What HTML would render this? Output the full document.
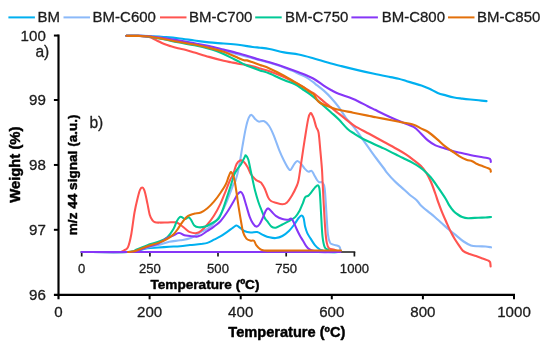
<!DOCTYPE html>
<html lang="en"><head><meta charset="utf-8"><title>TGA chart</title>
<style>html,body{margin:0;padding:0;background:#fff;}body{width:550px;height:346px;overflow:hidden;position:relative;font-family:"Liberation Sans",sans-serif;}</style>
</head><body>
<svg width="550" height="346" viewBox="0 0 550 346" style="position:absolute;left:0;top:0;display:block;filter:blur(0.35px)">
<rect width="550" height="346" fill="#fff"/>
<g stroke="#1a1a1a" stroke-width="1.7" fill="none">
<path d="M80.85 252.0 H355.25"/>
<path d="M81.7 252.0 V256.5"/>
<path d="M149.9 252.0 V256.5"/>
<path d="M218.0 252.0 V256.5"/>
<path d="M286.2 252.0 V256.5"/>
<path d="M354.4 252.0 V256.5"/>
</g>
<g fill="none" stroke-width="2.15" stroke-linecap="round" stroke-linejoin="round">
<path stroke="#00B0F0" d="M126.40 35.80 C128.33 35.82 134.23 35.85 138.00 35.90 C141.77 35.95 144.73 35.92 149.00 36.10 C153.27 36.28 158.77 36.65 163.60 37.00 C168.43 37.35 172.85 37.62 178.00 38.20 C183.15 38.78 189.33 39.80 194.50 40.50 C199.67 41.20 204.15 41.90 209.00 42.40 C213.85 42.90 218.73 43.10 223.60 43.50 C228.47 43.90 233.35 44.22 238.20 44.80 C243.05 45.38 249.07 46.52 252.70 47.00 C256.33 47.48 257.20 47.37 260.00 47.70 C262.80 48.03 265.50 48.22 269.50 49.00 C273.50 49.78 279.15 51.48 284.00 52.40 C288.85 53.32 293.73 53.53 298.60 54.50 C303.47 55.47 308.35 56.87 313.20 58.20 C318.05 59.53 323.00 61.18 327.70 62.50 C332.40 63.82 336.40 64.83 341.40 66.10 C346.40 67.37 352.25 68.82 357.70 70.10 C363.15 71.38 368.63 72.63 374.10 73.80 C379.57 74.97 386.42 76.28 390.50 77.10 C394.58 77.92 395.88 78.02 398.60 78.70 C401.32 79.38 404.37 80.47 406.80 81.20 C409.23 81.93 410.77 82.38 413.20 83.10 C415.63 83.82 418.68 84.55 421.40 85.50 C424.12 86.45 426.78 87.57 429.50 88.80 C432.22 90.03 434.97 91.80 437.70 92.90 C440.43 94.00 443.17 94.63 445.90 95.40 C448.63 96.17 451.37 96.97 454.10 97.50 C456.83 98.03 459.57 98.27 462.30 98.60 C465.03 98.93 467.78 99.22 470.50 99.50 C473.22 99.78 475.93 100.03 478.60 100.30 C481.27 100.57 485.18 100.97 486.50 101.10"/>
<path stroke="#8BB9F9" d="M126.40 35.80 C128.33 35.82 134.23 35.82 138.00 35.90 C141.77 35.98 144.73 35.92 149.00 36.30 C153.27 36.68 158.77 37.45 163.60 38.20 C168.43 38.95 172.85 39.83 178.00 40.80 C183.15 41.77 189.33 43.00 194.50 44.00 C199.67 45.00 204.15 45.70 209.00 46.80 C213.85 47.90 218.73 49.32 223.60 50.60 C228.47 51.88 233.35 53.25 238.20 54.50 C243.05 55.75 249.07 57.15 252.70 58.10 C256.33 59.05 257.20 59.42 260.00 60.20 C262.80 60.98 265.50 61.60 269.50 62.80 C273.50 64.00 280.25 66.10 284.00 67.40 C287.75 68.70 289.57 69.55 292.00 70.60 C294.43 71.65 296.27 72.62 298.60 73.70 C300.93 74.78 303.57 75.68 306.00 77.10 C308.43 78.52 311.40 80.87 313.20 82.20 C315.00 83.53 314.98 83.65 316.80 85.10 C318.62 86.55 321.67 88.72 324.10 90.90 C326.53 93.08 328.98 95.53 331.40 98.20 C333.82 100.87 336.18 103.63 338.60 106.90 C341.02 110.17 343.25 114.32 345.90 117.80 C348.55 121.28 351.85 124.40 354.50 127.80 C357.15 131.20 359.37 134.77 361.80 138.20 C364.23 141.63 366.67 145.02 369.10 148.40 C371.53 151.78 373.98 155.23 376.40 158.50 C378.82 161.77 381.78 165.57 383.60 168.00 C385.42 170.43 385.48 170.92 387.30 173.10 C389.12 175.28 392.08 178.68 394.50 181.10 C396.92 183.52 399.37 185.42 401.80 187.60 C404.23 189.78 406.67 192.13 409.10 194.20 C411.53 196.27 414.58 198.30 416.40 200.00 C418.22 201.70 418.18 202.58 420.00 204.40 C421.82 206.22 424.88 208.85 427.30 210.90 C429.72 212.95 432.08 214.63 434.50 216.70 C436.92 218.77 439.37 221.12 441.80 223.30 C444.23 225.48 446.67 227.75 449.10 229.80 C451.53 231.85 453.98 233.65 456.40 235.60 C458.82 237.55 461.18 239.87 463.60 241.50 C466.02 243.13 468.47 244.60 470.90 245.40 C473.33 246.20 475.77 246.12 478.20 246.30 C480.63 246.48 483.37 246.33 485.50 246.50 C487.63 246.67 490.08 247.17 491.00 247.30"/>
<path stroke="#FF5450" d="M126.40 35.80 C128.33 35.82 134.23 35.70 138.00 35.90 C141.77 36.10 145.93 36.28 149.00 37.00 C152.07 37.72 153.97 39.07 156.40 40.20 C158.83 41.33 161.17 42.78 163.60 43.80 C166.03 44.82 168.60 45.57 171.00 46.30 C173.40 47.03 175.50 47.58 178.00 48.20 C180.50 48.82 183.25 49.28 186.00 50.00 C188.75 50.72 190.67 51.35 194.50 52.50 C198.33 53.65 204.15 55.52 209.00 56.90 C213.85 58.28 219.93 59.90 223.60 60.80 C227.27 61.70 228.57 61.82 231.00 62.30 C233.43 62.78 235.78 63.27 238.20 63.70 C240.62 64.13 243.08 64.45 245.50 64.90 C247.92 65.35 250.28 65.80 252.70 66.40 C255.12 67.00 257.20 67.68 260.00 68.50 C262.80 69.32 265.50 69.87 269.50 71.30 C273.50 72.73 279.15 74.90 284.00 77.10 C288.85 79.30 294.35 82.18 298.60 84.50 C302.85 86.82 306.70 89.33 309.50 91.00 C312.30 92.67 312.97 92.70 315.40 94.50 C317.83 96.30 321.43 99.62 324.10 101.80 C326.77 103.98 328.98 105.65 331.40 107.60 C333.82 109.55 336.18 111.55 338.60 113.50 C341.02 115.45 343.25 117.25 345.90 119.30 C348.55 121.35 350.63 123.38 354.50 125.80 C358.37 128.22 364.25 131.13 369.10 133.80 C373.95 136.47 378.75 139.13 383.60 141.80 C388.45 144.47 394.55 147.73 398.20 149.80 C401.85 151.87 403.08 152.62 405.50 154.20 C407.92 155.78 410.17 157.37 412.70 159.30 C415.23 161.23 418.40 163.50 420.70 165.80 C423.00 168.10 424.80 170.43 426.50 173.10 C428.20 175.77 429.43 178.40 430.90 181.80 C432.37 185.20 434.08 190.10 435.30 193.50 C436.52 196.90 437.12 199.18 438.20 202.20 C439.28 205.22 440.47 208.33 441.80 211.60 C443.13 214.87 444.75 218.52 446.20 221.80 C447.65 225.08 449.05 228.38 450.50 231.30 C451.95 234.22 453.43 236.88 454.90 239.30 C456.37 241.72 457.95 243.88 459.30 245.80 C460.65 247.72 461.30 249.43 463.00 250.80 C464.70 252.17 467.33 253.13 469.50 254.00 C471.67 254.87 473.83 255.27 476.00 256.00 C478.17 256.73 480.43 257.63 482.50 258.40 C484.57 259.17 487.13 259.97 488.40 260.60 C489.67 261.23 489.73 261.22 490.10 262.20 C490.47 263.18 490.52 265.78 490.60 266.50"/>
<path stroke="#00C996" d="M126.40 35.80 C128.33 35.82 134.23 35.77 138.00 35.90 C141.77 36.03 144.73 36.03 149.00 36.60 C153.27 37.17 158.77 38.35 163.60 39.30 C168.43 40.25 172.85 41.30 178.00 42.30 C183.15 43.30 189.33 44.25 194.50 45.30 C199.67 46.35 205.35 47.63 209.00 48.60 C212.65 49.57 213.97 50.20 216.40 51.10 C218.83 52.00 221.17 52.92 223.60 54.00 C226.03 55.08 228.57 56.38 231.00 57.60 C233.43 58.82 235.78 60.08 238.20 61.30 C240.62 62.52 243.08 63.82 245.50 64.90 C247.92 65.98 250.28 66.88 252.70 67.80 C255.12 68.72 257.20 69.45 260.00 70.40 C262.80 71.35 265.50 71.90 269.50 73.50 C273.50 75.10 279.75 78.18 284.00 80.00 C288.25 81.82 291.95 82.90 295.00 84.40 C298.05 85.90 299.88 87.43 302.30 89.00 C304.72 90.57 307.08 92.03 309.50 93.80 C311.92 95.57 314.37 97.53 316.80 99.60 C319.23 101.67 321.67 104.02 324.10 106.20 C326.53 108.38 328.98 110.52 331.40 112.70 C333.82 114.88 335.95 116.63 338.60 119.30 C341.25 121.97 344.65 126.28 347.30 128.70 C349.95 131.12 352.08 132.22 354.50 133.80 C356.92 135.38 359.37 136.87 361.80 138.20 C364.23 139.53 365.47 140.10 369.10 141.80 C372.73 143.50 378.75 146.10 383.60 148.40 C388.45 150.70 394.55 153.78 398.20 155.60 C401.85 157.42 403.08 158.08 405.50 159.30 C407.92 160.52 410.28 161.57 412.70 162.90 C415.12 164.23 418.18 166.08 420.00 167.30 C421.82 168.52 421.78 168.50 423.60 170.20 C425.42 171.90 428.47 174.60 430.90 177.50 C433.33 180.40 435.77 184.10 438.20 187.60 C440.63 191.10 443.68 195.58 445.50 198.50 C447.32 201.42 447.77 203.03 449.10 205.10 C450.43 207.17 452.05 209.33 453.50 210.90 C454.95 212.47 456.35 213.48 457.80 214.50 C459.25 215.52 460.50 216.38 462.20 217.00 C463.90 217.62 465.33 218.08 468.00 218.20 C470.67 218.32 475.28 217.82 478.20 217.70 C481.12 217.58 483.37 217.62 485.50 217.50 C487.63 217.38 490.08 217.08 491.00 217.00"/>
<path stroke="#8636F7" d="M126.40 35.80 C128.33 35.82 134.23 35.82 138.00 35.90 C141.77 35.98 144.73 35.95 149.00 36.30 C153.27 36.65 158.77 37.32 163.60 38.00 C168.43 38.68 172.85 39.50 178.00 40.40 C183.15 41.30 189.33 42.47 194.50 43.40 C199.67 44.33 204.15 44.97 209.00 46.00 C213.85 47.03 218.73 48.38 223.60 49.60 C228.47 50.82 233.35 51.97 238.20 53.30 C243.05 54.63 249.07 56.53 252.70 57.60 C256.33 58.67 257.20 58.92 260.00 59.70 C262.80 60.48 265.50 61.10 269.50 62.30 C273.50 63.50 279.15 65.23 284.00 66.90 C288.85 68.57 293.73 70.37 298.60 72.30 C303.47 74.23 308.95 76.25 313.20 78.50 C317.45 80.75 321.07 83.85 324.10 85.80 C327.13 87.75 328.98 88.87 331.40 90.20 C333.82 91.53 334.97 92.35 338.60 93.80 C342.23 95.25 348.35 96.83 353.20 98.90 C358.05 100.97 364.07 104.38 367.70 106.20 C371.33 108.02 372.20 108.42 375.00 109.80 C377.80 111.18 380.48 112.62 384.50 114.50 C388.52 116.38 394.25 119.03 399.10 121.10 C403.95 123.17 409.97 124.83 413.60 126.90 C417.23 128.97 418.47 131.20 420.90 133.50 C423.33 135.80 425.77 138.72 428.20 140.70 C430.63 142.68 433.08 144.22 435.50 145.40 C437.92 146.58 439.98 146.92 442.70 147.80 C445.42 148.68 449.07 149.92 451.80 150.70 C454.53 151.48 455.47 151.67 459.10 152.50 C462.73 153.33 468.75 154.73 473.60 155.70 C478.45 156.67 485.40 157.63 488.20 158.30 C491.00 158.97 489.97 159.10 490.40 159.70 C490.83 160.30 490.73 161.53 490.80 161.90"/>
<path stroke="#E3700A" d="M126.40 35.80 C128.33 35.82 134.23 35.78 138.00 35.90 C141.77 36.02 144.73 35.98 149.00 36.50 C153.27 37.02 158.77 38.12 163.60 39.00 C168.43 39.88 172.85 40.88 178.00 41.80 C183.15 42.72 189.33 43.48 194.50 44.50 C199.67 45.52 204.15 46.68 209.00 47.90 C213.85 49.12 219.93 50.67 223.60 51.80 C227.27 52.93 228.57 53.68 231.00 54.70 C233.43 55.72 236.03 56.97 238.20 57.90 C240.37 58.83 242.53 59.88 244.00 60.30 C245.47 60.72 245.55 60.07 247.00 60.40 C248.45 60.73 250.53 61.55 252.70 62.30 C254.87 63.05 257.20 63.88 260.00 64.90 C262.80 65.92 265.50 66.62 269.50 68.40 C273.50 70.18 279.75 73.30 284.00 75.60 C288.25 77.90 291.95 80.38 295.00 82.20 C298.05 84.02 299.88 84.93 302.30 86.50 C304.72 88.07 307.57 90.27 309.50 91.60 C311.43 92.93 312.68 93.17 313.90 94.50 C315.12 95.83 315.83 98.27 316.80 99.60 C317.77 100.93 318.48 101.65 319.70 102.50 C320.92 103.35 322.15 103.85 324.10 104.70 C326.05 105.55 328.98 106.75 331.40 107.60 C333.82 108.45 334.97 108.95 338.60 109.80 C342.23 110.65 348.35 111.73 353.20 112.70 C358.05 113.67 364.07 114.87 367.70 115.60 C371.33 116.33 372.20 116.55 375.00 117.10 C377.80 117.65 380.48 118.12 384.50 118.90 C388.52 119.68 394.25 120.83 399.10 121.80 C403.95 122.77 409.97 123.60 413.60 124.70 C417.23 125.80 418.47 127.18 420.90 128.40 C423.33 129.62 425.47 130.17 428.20 132.00 C430.93 133.83 434.58 137.08 437.30 139.40 C440.02 141.72 442.08 143.97 444.50 145.90 C446.92 147.83 449.37 149.30 451.80 151.00 C454.23 152.70 456.67 154.65 459.10 156.10 C461.53 157.55 464.22 158.85 466.40 159.70 C468.58 160.55 470.52 160.52 472.20 161.20 C473.88 161.88 475.05 163.08 476.50 163.80 C477.95 164.52 478.95 164.77 480.90 165.50 C482.85 166.23 486.62 167.52 488.20 168.20 C489.78 168.88 489.97 169.02 490.40 169.60 C490.83 170.18 490.73 171.35 490.80 171.70"/>
</g>
<g fill="none" stroke-width="2.05" stroke-linecap="round" stroke-linejoin="round">
<path stroke="#00B0F0" d="M81.70 252.00 C89.42 252.00 118.83 252.20 128.00 252.00 C137.17 251.80 133.45 251.42 136.70 250.80 C139.95 250.18 143.88 248.85 147.50 248.30 C151.12 247.75 154.78 247.75 158.40 247.50 C162.02 247.25 165.58 247.02 169.20 246.80 C172.82 246.58 176.63 246.48 180.10 246.20 C183.57 245.92 186.55 245.47 190.00 245.10 C193.45 244.73 197.90 244.37 200.80 244.00 C203.70 243.63 205.22 243.62 207.40 242.90 C209.58 242.18 211.73 240.78 213.90 239.70 C216.07 238.62 218.23 237.67 220.40 236.40 C222.57 235.13 224.73 233.62 226.90 232.10 C229.07 230.58 231.78 228.38 233.40 227.30 C235.02 226.22 235.52 225.53 236.60 225.60 C237.68 225.67 238.63 226.80 239.90 227.70 C241.17 228.60 242.40 230.20 244.20 231.00 C246.00 231.80 248.53 232.32 250.70 232.50 C252.87 232.68 255.02 231.63 257.20 232.10 C259.38 232.57 261.78 234.43 263.80 235.30 C265.82 236.17 267.30 236.83 269.30 237.30 C271.30 237.77 273.62 238.32 275.80 238.10 C277.98 237.88 280.22 237.18 282.40 236.00 C284.58 234.82 286.92 232.92 288.90 231.00 C290.88 229.08 292.68 226.67 294.30 224.50 C295.92 222.33 297.42 219.52 298.60 218.00 C299.78 216.48 300.57 215.40 301.40 215.40 C302.23 215.40 302.98 216.13 303.60 218.00 C304.22 219.87 304.48 224.08 305.10 226.60 C305.72 229.12 306.38 231.10 307.30 233.10 C308.22 235.10 309.33 236.60 310.60 238.60 C311.87 240.60 313.47 243.37 314.90 245.10 C316.33 246.83 317.93 248.10 319.20 249.00 C320.47 249.90 321.03 250.00 322.50 250.50 C323.97 251.00 325.08 251.75 328.00 252.00 C330.92 252.25 338.00 252.00 340.00 252.00"/>
<path stroke="#8BB9F9" d="M81.70 252.00 C89.42 252.00 118.62 252.33 128.00 252.00 C137.38 251.67 134.75 250.75 138.00 250.00 C141.25 249.25 144.10 248.32 147.50 247.50 C150.90 246.68 154.78 246.05 158.40 245.10 C162.02 244.15 165.58 242.60 169.20 241.80 C172.82 241.00 176.63 240.88 180.10 240.30 C183.57 239.72 186.55 239.67 190.00 238.30 C193.45 236.93 197.90 233.68 200.80 232.10 C203.70 230.52 205.22 230.25 207.40 228.80 C209.58 227.35 211.73 225.75 213.90 223.40 C216.07 221.05 218.42 217.95 220.40 214.70 C222.38 211.45 224.18 207.52 225.80 203.90 C227.42 200.28 228.83 196.27 230.10 193.00 C231.37 189.73 232.52 186.25 233.40 184.30 C234.28 182.35 234.48 184.12 235.40 181.30 C236.32 178.48 237.73 173.18 238.90 167.40 C240.07 161.62 241.25 153.15 242.40 146.60 C243.55 140.05 244.73 132.92 245.80 128.10 C246.87 123.28 247.83 119.90 248.80 117.70 C249.77 115.50 250.55 114.70 251.60 114.90 C252.65 115.10 253.93 117.78 255.10 118.90 C256.27 120.02 257.07 121.22 258.60 121.60 C260.13 121.98 262.57 120.50 264.30 121.20 C266.03 121.90 267.45 123.48 269.00 125.80 C270.55 128.12 271.90 131.05 273.60 135.10 C275.30 139.15 277.48 145.87 279.20 150.10 C280.92 154.33 282.35 157.42 283.90 160.50 C285.45 163.58 287.35 167.07 288.50 168.60 C289.65 170.13 289.83 170.47 290.80 169.70 C291.77 168.93 293.22 165.45 294.30 164.00 C295.38 162.55 296.15 161.00 297.30 161.00 C298.45 161.00 299.97 162.73 301.20 164.00 C302.43 165.27 303.53 167.33 304.70 168.60 C305.87 169.87 307.05 171.22 308.20 171.60 C309.35 171.98 310.65 170.43 311.60 170.90 C312.55 171.37 313.00 172.88 313.90 174.40 C314.80 175.92 316.12 178.70 317.00 180.00 C317.88 181.30 318.28 181.77 319.20 182.20 C320.12 182.63 321.58 181.52 322.50 182.60 C323.42 183.68 324.05 183.72 324.70 188.70 C325.35 193.68 325.87 204.92 326.40 212.50 C326.93 220.08 327.28 229.13 327.90 234.20 C328.52 239.27 329.20 241.17 330.10 242.90 C331.00 244.63 332.03 244.13 333.30 244.60 C334.57 245.07 336.62 245.27 337.70 245.70 C338.78 246.13 339.33 246.40 339.80 247.20 C340.27 248.00 340.38 249.95 340.50 250.50"/>
<path stroke="#FF5450" d="M81.70 252.00 C87.75 252.00 111.28 252.08 118.00 252.00 C124.72 251.92 120.83 251.87 122.00 251.50 C123.17 251.13 124.00 250.52 125.00 249.80 C126.00 249.08 126.95 249.80 128.00 247.20 C129.05 244.60 130.22 239.98 131.30 234.20 C132.38 228.42 133.42 218.63 134.50 212.50 C135.58 206.37 136.88 201.18 137.80 197.40 C138.72 193.62 139.28 191.43 140.00 189.80 C140.72 188.17 141.43 187.65 142.10 187.60 C142.77 187.55 143.45 188.42 144.00 189.50 C144.55 190.58 144.82 191.70 145.40 194.10 C145.98 196.50 146.78 200.47 147.50 203.90 C148.22 207.33 148.90 212.00 149.70 214.70 C150.50 217.40 151.40 218.83 152.30 220.10 C153.20 221.37 153.82 221.88 155.10 222.30 C156.38 222.72 157.85 222.58 160.00 222.60 C162.15 222.62 165.38 222.45 168.00 222.40 C170.62 222.35 173.70 221.95 175.70 222.30 C177.70 222.65 178.45 223.47 180.00 224.50 C181.55 225.53 183.33 227.23 185.00 228.50 C186.67 229.77 188.08 231.33 190.00 232.10 C191.92 232.87 194.70 233.28 196.50 233.10 C198.30 232.92 198.98 232.43 200.80 231.00 C202.62 229.57 205.22 227.03 207.40 224.50 C209.58 221.97 211.73 219.23 213.90 215.80 C216.07 212.37 218.42 208.07 220.40 203.90 C222.38 199.73 224.18 194.78 225.80 190.80 C227.42 186.82 228.88 182.73 230.10 180.00 C231.32 177.27 232.02 177.07 233.10 174.40 C234.18 171.73 235.43 166.32 236.60 164.00 C237.77 161.68 238.95 160.90 240.10 160.50 C241.25 160.10 242.27 160.52 243.50 161.60 C244.73 162.68 246.33 165.02 247.50 167.00 C248.67 168.98 249.62 171.88 250.50 173.50 C251.38 175.12 251.85 175.60 252.80 176.70 C253.75 177.80 255.05 179.25 256.20 180.10 C257.35 180.95 258.80 181.27 259.70 181.80 C260.60 182.33 260.75 182.15 261.60 183.30 C262.45 184.45 263.72 186.35 264.80 188.70 C265.88 191.05 267.07 195.35 268.10 197.40 C269.13 199.45 269.72 200.10 271.00 201.00 C272.28 201.90 273.90 202.25 275.80 202.80 C277.70 203.35 280.58 204.30 282.40 204.30 C284.22 204.30 285.08 204.32 286.70 202.80 C288.32 201.28 290.47 197.92 292.10 195.20 C293.73 192.48 295.42 189.03 296.50 186.50 C297.58 183.97 297.82 183.95 298.60 180.00 C299.38 176.05 300.18 169.52 301.20 162.80 C302.22 156.08 303.53 147.02 304.70 139.70 C305.87 132.38 307.23 123.33 308.20 118.90 C309.17 114.47 309.83 113.75 310.50 113.10 C311.17 112.45 311.63 114.03 312.20 115.00 C312.77 115.97 313.23 116.90 313.90 118.90 C314.57 120.90 315.42 124.70 316.20 127.00 C316.98 129.30 317.90 128.67 318.60 132.70 C319.30 136.73 319.83 145.03 320.40 151.20 C320.97 157.37 321.63 164.57 322.00 169.70 C322.37 174.83 322.33 176.67 322.60 182.00 C322.87 187.33 323.15 193.72 323.60 201.70 C324.05 209.68 324.77 223.03 325.30 229.90 C325.83 236.77 326.18 239.83 326.80 242.90 C327.42 245.97 327.73 247.15 329.00 248.30 C330.27 249.45 332.57 249.18 334.40 249.80 C336.23 250.42 339.07 251.63 340.00 252.00"/>
<path stroke="#00C996" d="M81.70 252.00 C89.42 252.00 118.83 252.43 128.00 252.00 C137.17 251.57 133.45 250.55 136.70 249.40 C139.95 248.25 143.88 246.37 147.50 245.10 C151.12 243.83 155.15 243.07 158.40 241.80 C161.65 240.53 164.47 239.67 167.00 237.50 C169.53 235.33 171.97 231.52 173.60 228.80 C175.23 226.08 175.72 223.18 176.80 221.20 C177.88 219.22 179.15 217.50 180.10 216.90 C181.05 216.30 181.72 217.25 182.50 217.60 C183.28 217.95 184.08 218.90 184.80 219.00 C185.52 219.10 186.13 218.48 186.80 218.20 C187.47 217.92 188.10 217.03 188.80 217.30 C189.50 217.57 190.08 218.43 191.00 219.80 C191.92 221.17 193.02 224.25 194.30 225.50 C195.58 226.75 196.88 227.12 198.70 227.30 C200.52 227.48 203.03 227.25 205.20 226.60 C207.37 225.95 209.53 224.67 211.70 223.40 C213.87 222.13 216.40 221.17 218.20 219.00 C220.00 216.83 221.05 214.00 222.50 210.40 C223.95 206.80 225.45 201.75 226.90 197.40 C228.35 193.05 229.97 188.13 231.20 184.30 C232.43 180.47 233.22 177.02 234.30 174.40 C235.38 171.78 236.55 170.33 237.70 168.60 C238.85 166.87 240.03 165.93 241.20 164.00 C242.37 162.07 243.93 158.43 244.70 157.00 C245.47 155.57 245.22 155.02 245.80 155.40 C246.38 155.78 247.42 156.92 248.20 159.30 C248.98 161.68 249.72 166.08 250.50 169.70 C251.28 173.32 252.13 177.48 252.90 181.00 C253.67 184.52 254.20 187.35 255.10 190.80 C256.00 194.25 257.22 198.43 258.30 201.70 C259.38 204.97 260.52 207.68 261.60 210.40 C262.68 213.12 263.87 216.20 264.80 218.00 C265.73 219.80 266.08 219.77 267.20 221.20 C268.32 222.63 270.07 225.52 271.50 226.60 C272.93 227.68 273.98 228.05 275.80 227.70 C277.62 227.35 280.22 225.58 282.40 224.50 C284.58 223.42 286.73 222.47 288.90 221.20 C291.07 219.93 293.60 218.70 295.40 216.90 C297.20 215.10 298.43 212.75 299.70 210.40 C300.97 208.05 302.10 204.97 303.00 202.80 C303.90 200.63 304.20 198.60 305.10 197.40 C306.00 196.20 307.32 196.52 308.40 195.60 C309.48 194.68 310.52 193.23 311.60 191.90 C312.68 190.57 313.82 188.68 314.90 187.60 C315.98 186.52 317.30 184.87 318.10 185.40 C318.90 185.93 319.22 186.28 319.70 190.80 C320.18 195.32 320.53 204.90 321.00 212.50 C321.47 220.10 321.88 230.62 322.50 236.40 C323.12 242.18 323.80 244.97 324.70 247.20 C325.60 249.43 326.68 249.00 327.90 249.80 C329.12 250.60 329.98 251.63 332.00 252.00 C334.02 252.37 338.67 252.00 340.00 252.00"/>
<path stroke="#8636F7" d="M81.7 252.0 H340.5"/>
<path stroke="#8636F7" d="M81.70 252.00 C89.42 252.00 118.62 252.25 128.00 252.00 C137.38 251.75 134.75 251.33 138.00 250.50 C141.25 249.67 144.10 248.17 147.50 247.00 C150.90 245.83 155.15 244.98 158.40 243.50 C161.65 242.02 164.47 239.47 167.00 238.10 C169.53 236.73 171.78 236.13 173.60 235.30 C175.42 234.47 176.82 233.47 177.90 233.10 C178.98 232.73 179.02 232.73 180.10 233.10 C181.18 233.47 182.75 234.82 184.40 235.30 C186.05 235.78 187.98 235.75 190.00 236.00 C192.02 236.25 194.70 236.92 196.50 236.80 C198.30 236.68 198.98 236.27 200.80 235.30 C202.62 234.33 205.22 232.45 207.40 231.00 C209.58 229.55 211.73 228.23 213.90 226.60 C216.07 224.97 218.23 223.55 220.40 221.20 C222.57 218.85 224.73 215.75 226.90 212.50 C229.07 209.25 231.60 204.77 233.40 201.70 C235.20 198.63 236.43 195.73 237.70 194.10 C238.97 192.47 240.10 191.72 241.00 191.90 C241.90 192.08 242.20 192.85 243.10 195.20 C244.00 197.55 245.30 202.38 246.40 206.00 C247.50 209.62 248.62 214.00 249.70 216.90 C250.78 219.80 251.82 221.78 252.90 223.40 C253.98 225.02 255.12 226.42 256.20 226.60 C257.28 226.78 258.32 225.93 259.40 224.50 C260.48 223.07 261.62 220.35 262.70 218.00 C263.78 215.65 264.97 212.00 265.90 210.40 C266.83 208.80 267.37 208.22 268.30 208.40 C269.23 208.58 270.25 210.27 271.50 211.50 C272.75 212.73 273.98 214.55 275.80 215.80 C277.62 217.05 280.40 218.35 282.40 219.00 C284.40 219.65 286.37 219.77 287.80 219.70 C289.23 219.63 290.10 218.35 291.00 218.60 C291.90 218.85 292.28 219.50 293.20 221.20 C294.12 222.90 295.42 226.45 296.50 228.80 C297.58 231.15 298.62 233.32 299.70 235.30 C300.78 237.28 301.92 238.88 303.00 240.70 C304.08 242.52 305.12 244.75 306.20 246.20 C307.28 247.65 308.42 248.68 309.50 249.40 C310.58 250.12 311.28 250.07 312.70 250.50 C314.12 250.93 313.45 251.75 318.00 252.00 C322.55 252.25 336.33 252.00 340.00 252.00"/>
<path stroke="#E3700A" d="M128.00 252.00 C128.73 251.93 130.95 251.85 132.40 251.60 C133.85 251.35 134.18 251.40 136.70 250.50 C139.22 249.60 143.88 247.47 147.50 246.20 C151.12 244.93 155.15 244.10 158.40 242.90 C161.65 241.70 164.47 240.45 167.00 239.00 C169.53 237.55 171.78 235.90 173.60 234.20 C175.42 232.50 176.47 230.78 177.90 228.80 C179.33 226.82 180.75 224.28 182.20 222.30 C183.65 220.32 185.15 218.17 186.60 216.90 C188.05 215.63 189.50 215.25 190.90 214.70 C192.30 214.15 193.35 213.97 195.00 213.60 C196.65 213.23 198.73 213.40 200.80 212.50 C202.87 211.60 205.22 210.00 207.40 208.20 C209.58 206.40 211.73 204.23 213.90 201.70 C216.07 199.17 218.42 195.90 220.40 193.00 C222.38 190.10 224.45 186.97 225.80 184.30 C227.15 181.63 227.67 179.05 228.50 177.00 C229.33 174.95 230.08 172.33 230.80 172.00 C231.52 171.67 232.18 173.67 232.80 175.00 C233.42 176.33 233.87 177.00 234.50 180.00 C235.13 183.00 235.88 188.30 236.60 193.00 C237.32 197.70 238.07 203.50 238.80 208.20 C239.53 212.90 240.28 217.22 241.00 221.20 C241.72 225.18 242.20 229.20 243.10 232.10 C244.00 235.00 245.13 237.17 246.40 238.60 C247.67 240.03 249.43 240.35 250.70 240.70 C251.97 241.05 253.08 239.97 254.00 240.70 C254.92 241.43 255.12 243.65 256.20 245.10 C257.28 246.55 259.07 248.50 260.50 249.40 C261.93 250.30 263.22 250.30 264.80 250.50 C266.38 250.70 264.13 250.60 270.00 250.60 C275.87 250.60 288.17 250.53 300.00 250.50 C311.83 250.47 334.17 250.42 341.00 250.40"/>
</g>
<g stroke="#000" stroke-width="2.15" fill="none" stroke-linecap="butt">
<path d="M58.5 34.5 V299.3"/>
<path d="M53.9 294.9 H515"/>
</g>
<g stroke="#000" stroke-width="2" fill="none">
<path d="M53.9 35.55 H58.5"/>
<path d="M53.9 100.0 H58.5"/>
<path d="M53.9 164.95 H58.5"/>
<path d="M53.9 229.8 H58.5"/>
<path d="M149.6 294.9 V299.3"/>
<path d="M240.7 294.9 V299.3"/>
<path d="M331.8 294.9 V299.3"/>
<path d="M422.9 294.9 V299.3"/>
<path d="M514.0 294.9 V299.3"/>
</g>
<g stroke-width="2" fill="none" stroke-linecap="butt">
<path stroke="#00B0F0" d="M8.4 17.4 H34.9"/>
<path stroke="#8BB9F9" d="M63.5 17.4 H90.0"/>
<path stroke="#FF5450" d="M160 17.4 H186.5"/>
<path stroke="#00C996" d="M255.2 17.4 H281.7"/>
<path stroke="#8636F7" d="M351.4 17.4 H377.9"/>
<path stroke="#E3700A" d="M448 17.4 H474.5"/>
</g>
<g font-family="Liberation Sans, sans-serif" fill="#1c1c1c" stroke="#1c1c1c" stroke-width="0.3" stroke-linejoin="round">
<g font-size="15">
<text transform="translate(37.5 21.9) scale(1 1.015)">BM</text>
<text transform="translate(92.6 21.9) scale(1 1.015)">BM-C600</text>
<text transform="translate(189.0 21.9) scale(1 1.015)">BM-C700</text>
<text transform="translate(285.0 21.9) scale(1 1.015)">BM-C750</text>
<text transform="translate(381.7 21.9) scale(1 1.015)">BM-C800</text>
<text transform="translate(477.0 21.9) scale(1 1.015)">BM-C850</text>
</g>
<g font-size="15.1">
<text transform="translate(45.8 40.55) scale(1 1.03)" text-anchor="end">100</text>
<text transform="translate(45.8 105.00) scale(1 1.03)" text-anchor="end">99</text>
<text transform="translate(45.8 169.95) scale(1 1.03)" text-anchor="end">98</text>
<text transform="translate(45.8 234.80) scale(1 1.03)" text-anchor="end">97</text>
<text transform="translate(45.8 299.90) scale(1 1.03)" text-anchor="end">96</text>
<text transform="translate(58.5 317.2) scale(1 1.03)" text-anchor="middle">0</text>
<text transform="translate(149.6 317.2) scale(1 1.03)" text-anchor="middle">200</text>
<text transform="translate(240.7 317.2) scale(1 1.03)" text-anchor="middle">400</text>
<text transform="translate(331.8 317.2) scale(1 1.03)" text-anchor="middle">600</text>
<text transform="translate(422.9 317.2) scale(1 1.03)" text-anchor="middle">800</text>
<text transform="translate(514.0 317.2) scale(1 1.03)" text-anchor="middle">1000</text>
<text transform="translate(35.4 57.4) scale(1 1.03)" font-size="15.6">a)</text>
<text transform="translate(89.4 127.6) scale(1 1.03)" font-size="15.6">b)</text>
</g>
<g font-size="13.1">
<text transform="translate(81.7 273.2) scale(1 1.03)" text-anchor="middle">0</text>
<text transform="translate(149.9 273.2) scale(1 1.03)" text-anchor="middle">250</text>
<text transform="translate(218.0 273.2) scale(1 1.03)" text-anchor="middle">500</text>
<text transform="translate(286.2 273.2) scale(1 1.03)" text-anchor="middle">750</text>
<text transform="translate(354.4 273.2) scale(1 1.03)" text-anchor="middle">1000</text>
</g>
<g font-weight="bold" fill="#000" stroke="#000" stroke-width="0.45" stroke-linejoin="round">
<text x="286.8" y="337" font-size="14.6" text-anchor="middle">Temperature (ºC)</text>
<text x="205.0" y="288.6" font-size="13.6" text-anchor="middle">Temperature (ºC)</text>
<text transform="translate(20.3 164.7) rotate(-90)" font-size="14.8" text-anchor="middle">Weight (%)</text>
<text transform="translate(76.7 174.8) rotate(-90)" font-size="13.6" text-anchor="middle">m/z 44 signal (a.u.)</text>
</g>
</g>
</svg>
</body></html>
